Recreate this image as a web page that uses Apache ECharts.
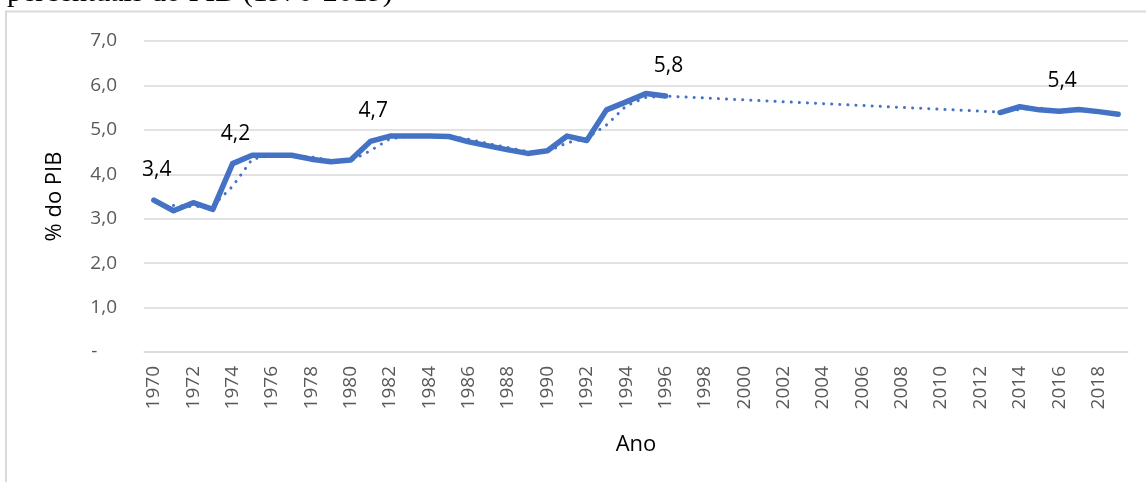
<!DOCTYPE html>
<html>
<head>
<meta charset="utf-8">
<script src="https://cdn.jsdelivr.net/npm/echarts@6/dist/echarts.min.js"></script>
<style>
html,body{margin:0;padding:0;background:#fff;}
#c{width:1146px;height:482px;}
</style>
</head>
<body>
<div id="c"></div>
<script>
// ---- data ----
const years = [];
for (let y = 1970; y <= 2019; y++) years.push(String(y));

const gastoPIB = [
  3.42, 3.18, 3.36, 3.21, 4.24, 4.43, 4.43, 4.43, 4.34, 4.28,
  4.32, 4.74, 4.86, 4.86, 4.86, 4.85, 4.73, 4.64, 4.55, 4.47,
  4.53, 4.86, 4.76, 5.45, 5.63, 5.82, 5.76, null, null, null,
  null, null, null, null, null, null, null, null, null, null,
  null, null, null, 5.39, 5.52, 5.45, 5.42, 5.46, 5.41, 5.35
];

const mediaMovel = [
  null, 3.30, 3.27, 3.29, 3.73, 4.34, 4.43, 4.43, 4.39, 4.31,
  4.30, 4.53, 4.80, 4.86, 4.86, 4.86, 4.79, 4.69, 4.60, 4.51,
  4.51, 4.71, 4.81, 5.11, 5.54, 5.73, 5.76, null, null, null,
  null, null, null, null, null, null, null, null, null, null,
  null, null, null, 5.40, 5.46, 5.49, 5.44, 5.44, 5.43, 5.38
];

const labeledYears = ['1970', '1974', '1981', '1996', '2016'];

const yTicks = { min: 0, max: 7, interval: 1 };
const titleText = 'percentuais do PIB (1970-2019)';
const yAxisName = '% do PIB';
const xAxisName = 'Ano';

// ---- chart ----
const fmt = v => v.toFixed(1).replace('.', ',');
const blue = '#4472C4';
const sans = 'Open Sans';

const solidData = gastoPIB.map((v, i) => {
  if (v === null) return null;
  if (labeledYears.indexOf(years[i]) >= 0) {
    return {
      value: v,
      label: {
        show: true, position: 'top', distance: 16, offset: [3, -3],
        formatter: p => fmt(p.value),
        color: '#000', fontSize: 21, fontFamily: sans
      }
    };
  }
  return v;
});

const chart = echarts.init(document.getElementById('c'), null, { renderer: 'canvas' });
chart.setOption({
  animation: false,
  backgroundColor: '#fff',
  grid: { left: 144, right: 18, top: 41, bottom: 130, containLabel: false },
  graphic: [
    {
      type: 'rect', silent: true, z: -1,
      shape: { x: 6, y: 11.5, width: 1160, height: 490 },
      style: { fill: 'none', stroke: '#d9d9d9', lineWidth: 2 }
    },
    {
      type: 'text', silent: true,
      x: 7, y: 8,
      style: {
        text: titleText, fill: '#000',
        font: '30px "Liberation Serif"',
        verticalAlign: 'bottom', align: 'left'
      }
    }
  ],
  xAxis: {
    type: 'category',
    data: years,
    boundaryGap: true,
    name: xAxisName,
    nameLocation: 'middle',
    nameGap: 82,
    nameTextStyle: { color: '#000', fontSize: 22, fontFamily: sans },
    axisLine: { show: true, lineStyle: { color: '#d9d9d9', width: 1.5 } },
    axisTick: { show: false },
    axisLabel: {
      interval: 1, rotate: 90, margin: 14,
      color: '#595959', fontSize: 19, fontFamily: sans
    },
    splitLine: { show: false }
  },
  yAxis: {
    type: 'value',
    min: yTicks.min, max: yTicks.max, interval: yTicks.interval,
    name: yAxisName,
    nameLocation: 'middle',
    nameGap: 78,
    nameRotate: 90,
    nameTextStyle: { color: '#000', fontSize: 22, fontFamily: sans },
    axisLine: { show: false },
    axisTick: { show: false },
    axisLabel: {
      margin: 27, color: '#595959', fontSize: 19, fontFamily: sans,
      formatter: v => v === 0 ? '-    ' : fmt(v)
    },
    splitLine: { show: true, lineStyle: { color: '#d9d9d9', width: 1.5 } }
  },
  series: [
    {
      type: 'line',
      data: solidData,
      connectNulls: false,
      showSymbol: true,
      symbol: 'circle',
      symbolSize: 1,
      itemStyle: { color: blue },
      lineStyle: { color: blue, width: 5.5, cap: 'round', join: 'round' },
      z: 3
    },
    {
      type: 'line',
      data: mediaMovel,
      connectNulls: true,
      showSymbol: false,
      symbol: 'none',
      lineStyle: { color: blue, width: 3, type: [0.1, 8], cap: 'round' },
      z: 4
    }
  ]
});
</script>
</body>
</html>
